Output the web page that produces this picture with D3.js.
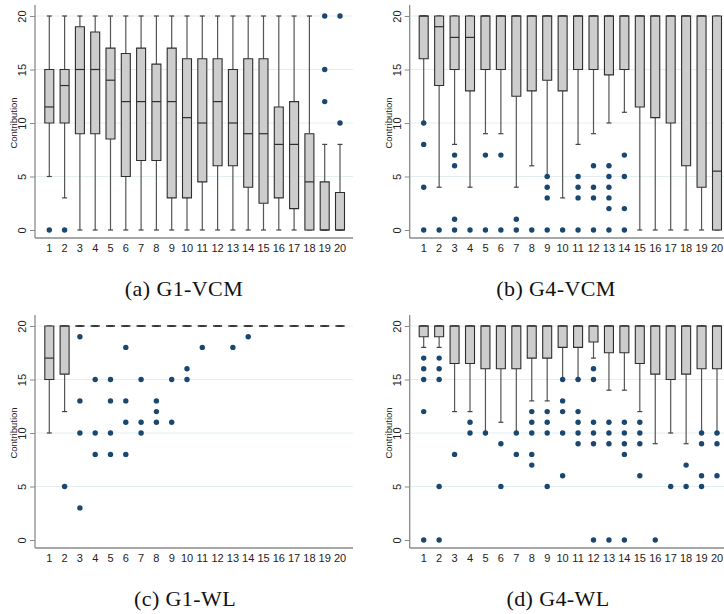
<!DOCTYPE html>
<html>
<head>
<meta charset="utf-8">
<script src="https://cdnjs.cloudflare.com/ajax/libs/d3/7.8.5/d3.min.js"></script>
<style>
  body { margin: 0; background: #fff; }
  svg { display: block; }
</style>
</head>
<body>
<svg id="chart" width="724" height="614"></svg>
<script>
// periods 1..20
var periods = d3.range(1, 21);
var yTicks = [0, 5, 10, 15, 20];

// (a) G1-VCM
var g1vcmLo  = [5,3,0,0,0,0,0,0,0,0,0,0,0,0,0,0,0,0,0,0];
var g1vcmQ1  = [10,10,9,9,8.5,5,6.5,6.5,3,3,4.5,6,6,4,2.5,3,2,0,0,0];
var g1vcmMed = [11.5,13.5,15,15,14,12,12,12,12,10.5,10,12,10,9,9,8,8,4.5,0,0];
var g1vcmQ3  = [15,15,19,18.5,17,16.5,17,15.5,17,16,16,16,15,16,16,11.5,12,9,4.5,3.5];
var g1vcmHi  = [20,20,20,20,20,20,20,20,20,20,20,20,20,20,20,20,20,20,8,8];
var g1vcmOut = [[0],[0],[],[],[],[],[],[],[],[],[],[],[],[],[],[],[],[],[20,15,12],[20,10]];

// (b) G4-VCM
var g4vcmLo  = [10,4,8,4,9,9,4,6,5,3,8,9,10,11,0,0,0,0,0,0];
var g4vcmQ1  = [16,13.5,15,13,15,15,12.5,13,14,13,15,15,14.5,15,11.5,10.5,10,6,4,0];
var g4vcmMed = [20,19,18,18,20,20,20,20,20,20,20,20,20,20,20,20,20,20,20,5.5];
var g4vcmQ3  = [20,20,20,20,20,20,20,20,20,20,20,20,20,20,20,20,20,20,20,20];
var g4vcmHi  = [20,20,20,20,20,20,20,20,20,20,20,20,20,20,20,20,20,20,20,20];
var g4vcmOut = [[10,8,4,0],[0],[7,6,1,0],[0],[7,0],[7,0],[1,0],[0],[5,4,3,0],[0],
                [5,4,3,0],[6,4,3,0],[6,5,4,3,2,0],[7,5,2,0],[],[],[],[],[],[]];

// (c) G1-WL
var g1wlLo  = [10,12,20,20,20,20,20,20,20,20,20,20,20,20,20,20,20,20,20,20];
var g1wlQ1  = [15,15.5,20,20,20,20,20,20,20,20,20,20,20,20,20,20,20,20,20,20];
var g1wlMed = [17,20,20,20,20,20,20,20,20,20,20,20,20,20,20,20,20,20,20,20];
var g1wlQ3  = [20,20,20,20,20,20,20,20,20,20,20,20,20,20,20,20,20,20,20,20];
var g1wlHi  = [20,20,20,20,20,20,20,20,20,20,20,20,20,20,20,20,20,20,20,20];
var g1wlOut = [[],[5],[19,13,10,3],[15,10,8],[15,13,10,8],[18,13,11,8],[15,11,10],[13,12,11],
               [15,11],[16,15],[18],[],[18],[19],[],[],[],[],[],[]];

// (d) G4-WL
var g4wlLo  = [18,18,12,12,10,11,10,13,13,15,15,17,14,14,12,9,10,9,10,10];
var g4wlQ1  = [19,19,16.5,16.5,16,16,16,17,17,18,18,18.5,17.5,17.5,16.5,15.5,15,15.5,16,16];
var g4wlMed = [20,20,20,20,20,20,20,20,20,20,20,20,20,20,20,20,20,20,20,20];
var g4wlQ3  = [20,20,20,20,20,20,20,20,20,20,20,20,20,20,20,20,20,20,20,20];
var g4wlHi  = [20,20,20,20,20,20,20,20,20,20,20,20,20,20,20,20,20,20,20,20];
var g4wlOut = [[17,16,15,12,0],[17,16,15,5,0],[8],[11,10],[10],[9,5],[10,8],[12,11,10,8,7],
               [12,11,10,5],[15,13,12,10,6],[15,12,11,10,9],[16,15,11,10,9,0],[11,10,9,0],
               [11,10,9,8,0],[11,10,9,6],[0],[5],[7,5],[10,9,6,5],[10,9,6]];

var captions = ["(a) G1-VCM", "(b) G4-VCM", "(c) G1-WL", "(d) G4-WL"];

var svg = d3.select("#chart");

var panels = [
  {lo: g1vcmLo, q1: g1vcmQ1, med: g1vcmMed, q3: g1vcmQ3, hi: g1vcmHi, out: g1vcmOut,
   axisX: 35, x0: 49.3, x1: 340, right: 353, top: 0, cap: captions[0], capX: 184},
  {lo: g4vcmLo, q1: g4vcmQ1, med: g4vcmMed, q3: g4vcmQ3, hi: g4vcmHi, out: g4vcmOut,
   axisX: 409.7, x0: 423.7, x1: 717, right: 724, top: 0, cap: captions[1], capX: 556},
  {lo: g1wlLo, q1: g1wlQ1, med: g1wlMed, q3: g1wlQ3, hi: g1wlHi, out: g1wlOut,
   axisX: 35, x0: 49.3, x1: 340, right: 353, top: 310, cap: captions[2], capX: 185},
  {lo: g4wlLo, q1: g4wlQ1, med: g4wlMed, q3: g4wlQ3, hi: g4wlHi, out: g4wlOut,
   axisX: 409.7, x0: 423.7, x1: 717, right: 724, top: 310, cap: captions[3], capX: 558}
];

var boxW = 9, capW = 5;

panels.forEach(function(p) {
  var g = svg.append("g").attr("transform", "translate(0," + p.top + ")");

  var y = d3.scaleLinear().domain([0, 20]).range([230, 16]);
  var x = d3.scalePoint().domain(periods).range([p.x0, p.x1]);

  // gridlines
  g.append("g").selectAll("line")
    .data(yTicks.filter(function(t) { return t > 0; }))
    .enter().append("line")
      .attr("x1", p.axisX).attr("x2", p.right)
      .attr("y1", function(d) { return y(d); })
      .attr("y2", function(d) { return y(d); })
      .style("stroke", "#e4eef0")
      .style("stroke-width", 1);

  // y axis
  var yAxis = d3.axisLeft(y).tickValues(yTicks).tickSize(5).tickPadding(0);
  var ya = g.append("g").attr("transform", "translate(" + p.axisX + ",0)").call(yAxis);
  ya.select(".domain").attr("d", "M0,5V238").style("stroke", "#8a8a8a").style("stroke-width", 1.3);
  ya.selectAll(".tick line").style("stroke", "#8a8a8a");
  ya.selectAll(".tick text")
    .attr("transform", "translate(-12.5,0) rotate(-90)")
    .attr("x", 0).attr("y", 0)
    .attr("text-anchor", "middle")
    .attr("dy", "0.35em")
    .style("font-family", "'Liberation Sans', Arial, sans-serif")
    .style("font-size", "11px")
    .style("fill", "#222");

  g.append("text")
    .attr("transform", "translate(" + (p.axisX - 21) + ",123) rotate(-90)")
    .attr("text-anchor", "middle")
    .attr("dy", "0.35em")
    .style("font-family", "'Liberation Sans', Arial, sans-serif")
    .style("font-size", "9.5px")
    .style("fill", "#222")
    .text("Contribution");

  // x axis
  g.append("line")
    .attr("x1", p.axisX).attr("x2", p.right)
    .attr("y1", 238).attr("y2", 238)
    .style("stroke", "#8a8a8a").style("stroke-width", 1.3);
  g.append("g").selectAll("text")
    .data(periods)
    .enter().append("text")
      .attr("x", function(d) { return x(d); })
      .attr("y", 248)
      .attr("dy", "0.35em")
      .attr("text-anchor", "middle")
      .style("font-family", "'Liberation Sans', Arial, sans-serif")
      .style("font-size", "11px")
      .style("fill", "#222")
      .text(function(d) { return d; });

  // boxes
  var rows = periods.map(function(d, i) {
    return {t: d, lo: p.lo[i], q1: p.q1[i], med: p.med[i], q3: p.q3[i], hi: p.hi[i], out: p.out[i]};
  });
  var bx = g.append("g").selectAll("g").data(rows).enter().append("g");

  // whiskers
  bx.append("line")
    .attr("x1", function(d) { return x(d.t); }).attr("x2", function(d) { return x(d.t); })
    .attr("y1", function(d) { return y(d.q3); }).attr("y2", function(d) { return y(d.hi); })
    .style("stroke", "#555").style("stroke-width", 1.2);
  bx.append("line")
    .attr("x1", function(d) { return x(d.t); }).attr("x2", function(d) { return x(d.t); })
    .attr("y1", function(d) { return y(d.q1); }).attr("y2", function(d) { return y(d.lo); })
    .style("stroke", "#555").style("stroke-width", 1.2);
  bx.selectAll("line.cap")
    .data(function(d) { return [{t: d.t, v: d.hi}, {t: d.t, v: d.lo}]; })
    .enter().append("line")
      .attr("class", "cap")
      .attr("x1", function(d) { return x(d.t) - capW / 2; })
      .attr("x2", function(d) { return x(d.t) + capW / 2; })
      .attr("y1", function(d) { return y(d.v); }).attr("y2", function(d) { return y(d.v); })
      .style("stroke", "#444").style("stroke-width", 1.2);

  // box body
  bx.append("rect")
    .attr("x", function(d) { return x(d.t) - boxW / 2; })
    .attr("y", function(d) { return y(d.q3); })
    .attr("width", boxW)
    .attr("height", function(d) { return y(d.q1) - y(d.q3); })
    .style("fill", "#cdcdcd");
  bx.append("path")
    .attr("d", function(d) {
      var l = x(d.t) - boxW / 2, r = x(d.t) + boxW / 2;
      return "M" + l + "," + y(d.q3) + "H" + r + "V" + y(d.q1) + "H" + l + "Z";
    })
    .style("fill", "none").style("stroke", "#2e2e2e").style("stroke-width", 1.1);
  bx.append("line")
    .attr("x1", function(d) { return x(d.t) - boxW / 2; })
    .attr("x2", function(d) { return x(d.t) + boxW / 2; })
    .attr("y1", function(d) { return y(d.med); }).attr("y2", function(d) { return y(d.med); })
    .style("stroke", "#2e2e2e").style("stroke-width", 1.2);

  // outside values
  bx.selectAll("circle")
    .data(function(d) { return d.out.map(function(v) { return {t: d.t, v: v}; }); })
    .enter().append("circle")
      .attr("cx", function(d) { return x(d.t); })
      .attr("cy", function(d) { return y(d.v); })
      .attr("r", 2.7)
      .style("fill", "#1a476f");

  // caption
  g.append("text")
    .attr("x", p.capX).attr("y", 296)
    .attr("text-anchor", "middle")
    .style("font-family", "'Liberation Serif', 'Times New Roman', serif")
    .style("font-size", "22px")
    .style("letter-spacing", "0.4px")
    .style("fill", "#111")
    .text(p.cap);
});
</script>
</body>
</html>
